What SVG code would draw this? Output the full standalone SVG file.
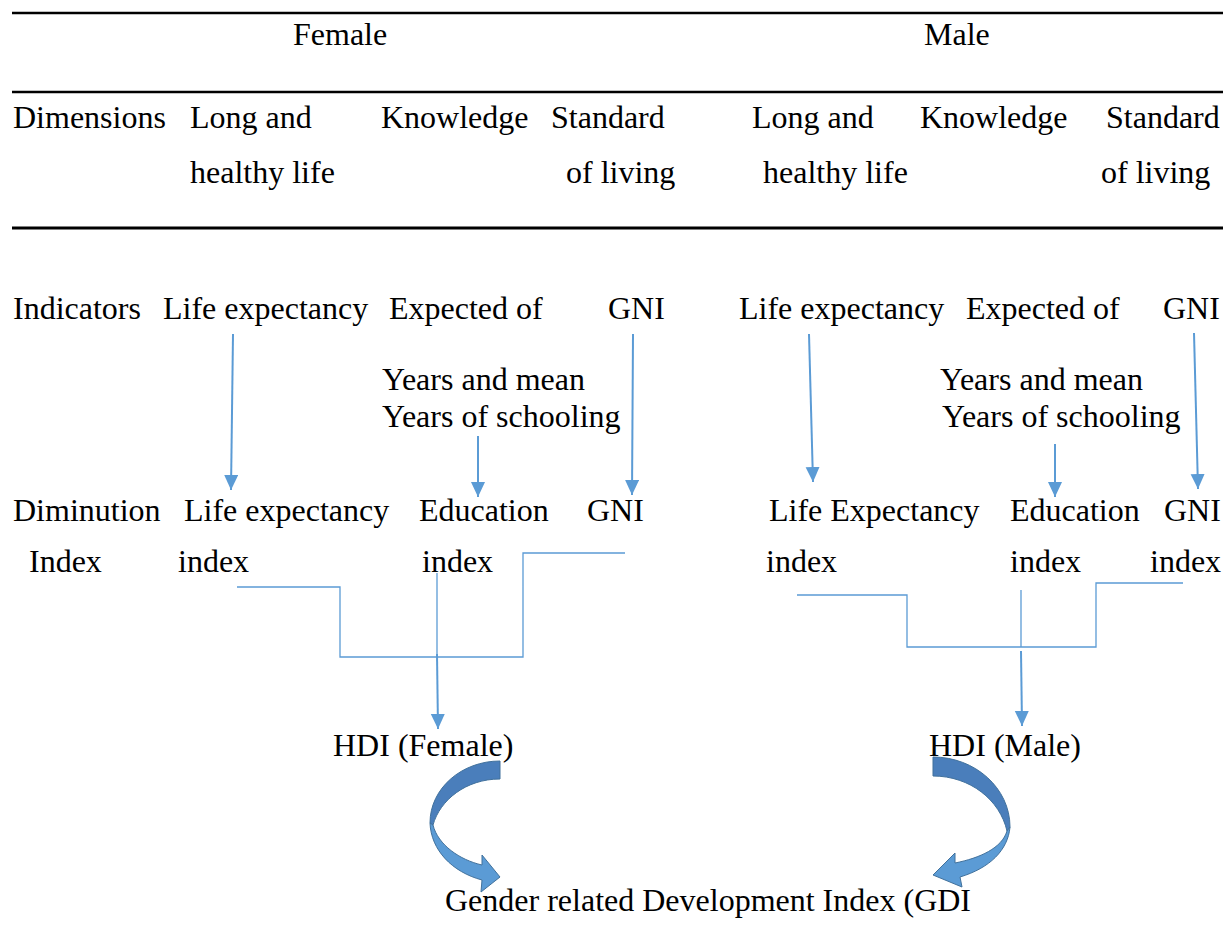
<svg xmlns="http://www.w3.org/2000/svg" width="1223" height="926" viewBox="0 0 1223 926">
<style>
text{font-family:"Liberation Serif","Times New Roman",serif;font-size:32px;fill:#000}
.rule{stroke:#000;fill:none}
.arr{stroke:#5B9BD5;stroke-width:2;fill:none;marker-end:url(#ah)}
.thin{stroke:#5B9BD5;stroke-width:1.3;fill:none}
.dark{fill:#4A7EBB;stroke:#41719C;stroke-width:1}
.light{fill:#5B9BD5;stroke:#41719C;stroke-width:1}
</style>
<defs>
<marker id="ah" markerUnits="userSpaceOnUse" markerWidth="16" markerHeight="16" refX="15" refY="7" orient="auto">
<path d="M0,0 L15,7 L0,14 Z" fill="#5B9BD5"/>
</marker>
</defs>
<rect width="1223" height="926" fill="#fff"/>
<g id="table">
<line class="rule" x1="12" y1="13" x2="1223" y2="13" stroke-width="2.5"/>
<line class="rule" x1="12" y1="92" x2="1223" y2="92" stroke-width="2.5"/>
<line class="rule" x1="12" y1="228" x2="1223" y2="228" stroke-width="3"/>
<text x="293" y="45">Female</text>
<text x="924" y="45">Male</text>
<text x="13" y="128">Dimensions</text>
<text x="190" y="128">Long and</text>
<text x="381" y="128">Knowledge</text>
<text x="551" y="128">Standard</text>
<text x="752" y="128">Long and</text>
<text x="920" y="128">Knowledge</text>
<text x="1106" y="128">Standard</text>
<text x="190" y="183">healthy life</text>
<text x="566" y="183">of living</text>
<text x="763" y="183">healthy life</text>
<text x="1101" y="183">of living</text>
</g>
<g id="row-indicators">
<text x="13" y="319">Indicators</text>
</g>
<g id="f-life-exp"><text x="163" y="319">Life expectancy</text></g>
<g id="f-expected"><text x="389" y="319">Expected of</text><text x="382" y="390">Years and mean</text><text x="382" y="427">Years of schooling</text></g>
<g id="f-gni"><text x="608" y="319">GNI</text></g>
<g id="m-life-exp"><text x="739" y="319">Life expectancy</text></g>
<g id="m-expected"><text x="966" y="319">Expected of</text><text x="940" y="390">Years and mean</text><text x="942" y="427">Years of schooling</text></g>
<g id="m-gni"><text x="1163" y="319">GNI</text></g>
<g id="row-diminution"><text x="13" y="521">Diminution</text><text x="29" y="572">Index</text></g>
<g id="f-life-index"><text x="184" y="521">Life expectancy</text><text x="178" y="572">index</text></g>
<g id="f-edu-index"><text x="419" y="521">Education</text><text x="422" y="572">index</text></g>
<g id="f-gni-index"><text x="587" y="521">GNI</text></g>
<g id="m-life-index"><text x="769" y="521">Life Expectancy</text><text x="766" y="572">index</text></g>
<g id="m-edu-index"><text x="1010" y="521">Education</text><text x="1010" y="572">index</text></g>
<g id="m-gni-index"><text x="1164" y="521">GNI</text><text x="1150" y="572">index</text></g>
<g id="hdi-female"><text x="333" y="756">HDI (Female)</text></g>
<g id="hdi-male"><text x="929" y="756">HDI (Male)</text></g>
<g id="gdi"><text x="445" y="911">Gender related Development Index (GDI</text></g>
<g id="connectors">
<line class="arr" x1="233" y1="334" x2="231" y2="490"/>
<line class="arr" x1="478" y1="436" x2="478" y2="497"/>
<line class="arr" x1="633" y1="334" x2="632" y2="495"/>
<line class="arr" x1="809" y1="334" x2="813" y2="482"/>
<line class="arr" x1="1055" y1="444" x2="1055" y2="497"/>
<line class="arr" x1="1194" y1="333" x2="1198" y2="489"/>
<polyline class="thin" points="237,587 340,587 340,657 523,657 523,553 625,553"/>
<line class="thin" x1="437" y1="573" x2="437" y2="657"/>
<line class="arr" x1="437" y1="654" x2="438" y2="729"/>
<polyline class="thin" points="797,595 907,595 907,647 1096,647 1096,583 1183,583"/>
<line class="thin" x1="1021" y1="590" x2="1021" y2="647"/>
<line class="arr" x1="1021" y1="651" x2="1022" y2="726"/>
<path class="dark" d="M500,761 C462,761 430,788 430,823 L433,825 C440,800 466,779 500,779 Z"/>
<path class="light" d="M430,823 C431,850 452,872 482,880 L481,892 L500,877 L482,855 L482,865 C460,860 438,845 433,825 Z"/>
<path class="dark" d="M933,757 C975,757 1010,788 1010,827 L1007,831 C1000,800 970,776 933,776 Z"/>
<path class="light" d="M1010,827 C1008,850 990,868 960,877 L962,887 L933,875 L955,853 L955,863 C980,858 1002,848 1007,831 Z"/>
</g>
</svg>
